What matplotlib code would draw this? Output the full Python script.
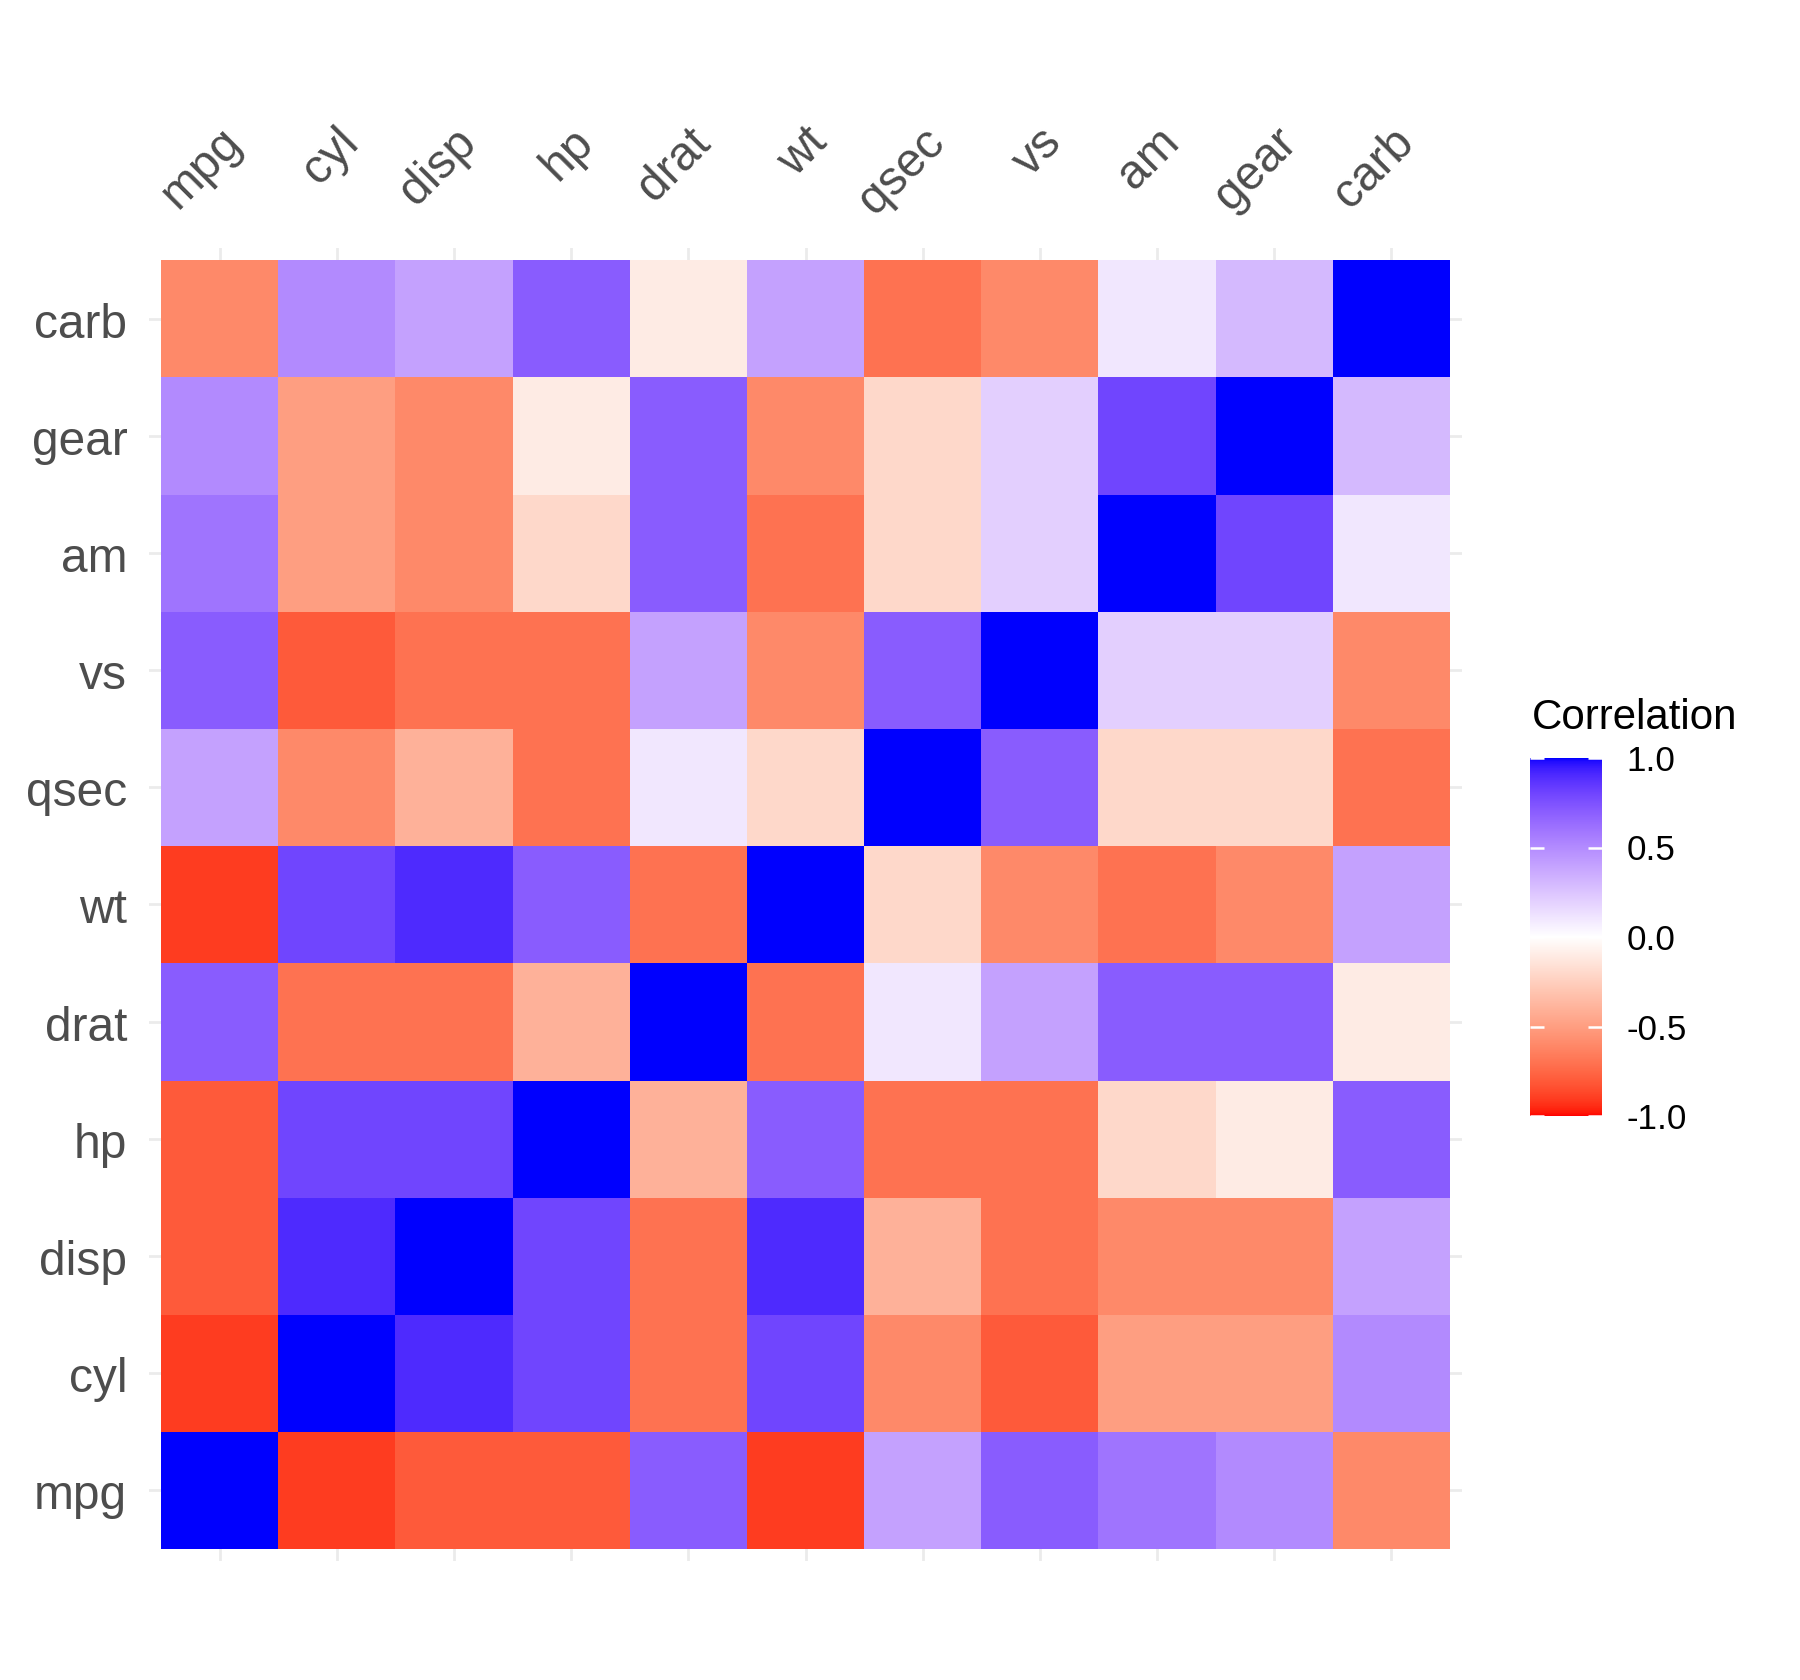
import numpy as np
import matplotlib
matplotlib.use("Agg")
import matplotlib.pyplot as plt
from matplotlib.colors import ListedColormap, Normalize
from matplotlib.transforms import blended_transform_factory, ScaledTranslation
import matplotlib.cm as cm

plt.rcParams['font.family'] = ['Liberation Sans', 'DejaVu Sans']

# mtcars variables and their correlation matrix, rounded to 1 decimal
variables = ['mpg', 'cyl', 'disp', 'hp', 'drat', 'wt', 'qsec', 'vs', 'am', 'gear', 'carb']
corr_mpg = [1.0, -0.9, -0.8, -0.8, 0.7, -0.9, 0.4, 0.7, 0.6, 0.5, -0.6]
corr_cyl = [-0.9, 1.0, 0.9, 0.8, -0.7, 0.8, -0.6, -0.8, -0.5, -0.5, 0.5]
corr_disp = [-0.8, 0.9, 1.0, 0.8, -0.7, 0.9, -0.4, -0.7, -0.6, -0.6, 0.4]
corr_hp = [-0.8, 0.8, 0.8, 1.0, -0.4, 0.7, -0.7, -0.7, -0.2, -0.1, 0.7]
corr_drat = [0.7, -0.7, -0.7, -0.4, 1.0, -0.7, 0.1, 0.4, 0.7, 0.7, -0.1]
corr_wt = [-0.9, 0.8, 0.9, 0.7, -0.7, 1.0, -0.2, -0.6, -0.7, -0.6, 0.4]
corr_qsec = [0.4, -0.6, -0.4, -0.7, 0.1, -0.2, 1.0, 0.7, -0.2, -0.2, -0.7]
corr_vs = [0.7, -0.8, -0.7, -0.7, 0.4, -0.6, 0.7, 1.0, 0.2, 0.2, -0.6]
corr_am = [0.6, -0.5, -0.6, -0.2, 0.7, -0.7, -0.2, 0.2, 1.0, 0.8, 0.1]
corr_gear = [0.5, -0.5, -0.6, -0.1, 0.7, -0.6, -0.2, 0.2, 0.8, 1.0, 0.3]
corr_carb = [-0.6, 0.5, 0.4, 0.7, -0.1, 0.4, -0.7, -0.6, 0.1, 0.3, 1.0]

legend_ticks = [-1.0, -0.5, 0.0, 0.5, 1.0]
legend_labels = ['-1.0', '-0.5', '0.0', '0.5', '1.0']

corr = np.array([corr_mpg, corr_cyl, corr_disp, corr_hp, corr_drat, corr_wt,
                 corr_qsec, corr_vs, corr_am, corr_gear, corr_carb])


# Lab interpolation red -> white -> blue (like scale_fill_gradient2)
def srgb2lab(rgb):
    rgb = np.asarray(rgb, dtype=float)
    lin = np.where(rgb <= 0.04045, rgb / 12.92, ((rgb + 0.055) / 1.055) ** 2.4)
    M = np.array([[0.4124, 0.3576, 0.1805],
                  [0.2126, 0.7152, 0.0722],
                  [0.0193, 0.1192, 0.9505]])
    xyz = M @ lin / np.array([0.95047, 1.0, 1.08883])
    f = np.where(xyz > 216 / 24389, np.cbrt(xyz), (24389 / 27 * xyz + 16) / 116)
    return np.array([116 * f[1] - 16, 500 * (f[0] - f[1]), 200 * (f[1] - f[2])])


def lab2srgb(lab):
    L, a, b = lab
    fy = (L + 16) / 116
    fx = fy + a / 500
    fz = fy - b / 200
    f = np.array([fx, fy, fz])
    xyz = np.where(f ** 3 > 216 / 24389, f ** 3, (116 * f - 16) / (24389 / 27))
    xyz = xyz * np.array([0.95047, 1.0, 1.08883])
    Minv = np.array([[3.2406, -1.5372, -0.4986],
                     [-0.9689, 1.8758, 0.0415],
                     [0.0557, -0.2040, 1.0570]])
    lin = np.clip(Minv @ xyz, 0, 1)
    rgb = np.where(lin <= 0.0031308, 12.92 * lin, 1.055 * lin ** (1 / 2.4) - 0.055)
    return np.clip(rgb, 0, 1)


lab_low = srgb2lab([1, 0, 0])
lab_mid = srgb2lab([1, 1, 1])
lab_high = srgb2lab([0, 0, 1])
colors = []
for t in np.linspace(0, 1, 512):
    if t < 0.5:
        s = t / 0.5
        lab = lab_low + (lab_mid - lab_low) * s
    else:
        s = (t - 0.5) / 0.5
        lab = lab_mid + (lab_high - lab_mid) * s
    colors.append(lab2srgb(lab))
cmap = ListedColormap(colors)
norm = Normalize(vmin=-1, vmax=1)

dpi = 300
fig = plt.figure(figsize=(1800 / dpi, 1680 / dpi), dpi=dpi)
ax = fig.add_axes([149.3 / 1800, 1 - 1560.7 / 1680, 1312.4 / 1800, 1312.4 / 1680])

n = len(variables)
ax.imshow(corr, cmap=cmap, norm=norm, origin='lower', interpolation='nearest',
          extent=(-0.5, n - 0.5, -0.5, n - 0.5), aspect='auto', zorder=2)
ax.set_xlim(-0.6, n - 0.4)
ax.set_ylim(-0.6, n - 0.4)

# grid lines like theme_minimal
ax.set_xticks(range(n))
ax.set_yticks(range(n))
ax.grid(True, color='#EBEBEB', linewidth=0.65, zorder=0)
ax.set_axisbelow(True)
ax.tick_params(length=0, labelbottom=False, labelleft=False)
for s in ax.spines.values():
    s.set_visible(False)

# top axis labels, rotated
trans_x = blended_transform_factory(ax.transData, ax.transAxes)
off_x = ScaledTranslation(24 / dpi, 104 / dpi, fig.dpi_scale_trans)
for i, name in enumerate(variables):
    ax.text(i, 1.0, name, transform=trans_x + off_x, rotation=45, ha='right',
            va='baseline', rotation_mode='anchor', fontsize=11.5, color='#4D4D4D')

# left axis labels
trans_y = blended_transform_factory(ax.transAxes, ax.transData)
off_y = ScaledTranslation(-22 / dpi, -19 / dpi, fig.dpi_scale_trans)
for i, name in enumerate(variables):
    ax.text(0, i, name, transform=trans_y + off_y, ha='right', va='baseline',
            fontsize=11.5, color='#4D4D4D')

# colorbar legend
cax = fig.add_axes([1530 / 1800, 1 - 1116 / 1680, 72 / 1800, 358 / 1680])
sm = cm.ScalarMappable(norm=norm, cmap=cmap)
cb = fig.colorbar(sm, cax=cax, ticks=legend_ticks)
cb.outline.set_visible(False)
cb.ax.set_yticklabels(legend_labels)
cax.tick_params(axis='y', direction='in', color='white', length=3.4, width=0.6,
                left=True, right=True, labelleft=False, labelright=True,
                pad=5.8, labelsize=8.4, labelcolor='black')
fig.text(1532 / 1800, 1 - 729 / 1680, 'Correlation', ha='left', va='baseline',
         fontsize=10.1, color='black')

fig.savefig('out.png', dpi=dpi, facecolor='white')
